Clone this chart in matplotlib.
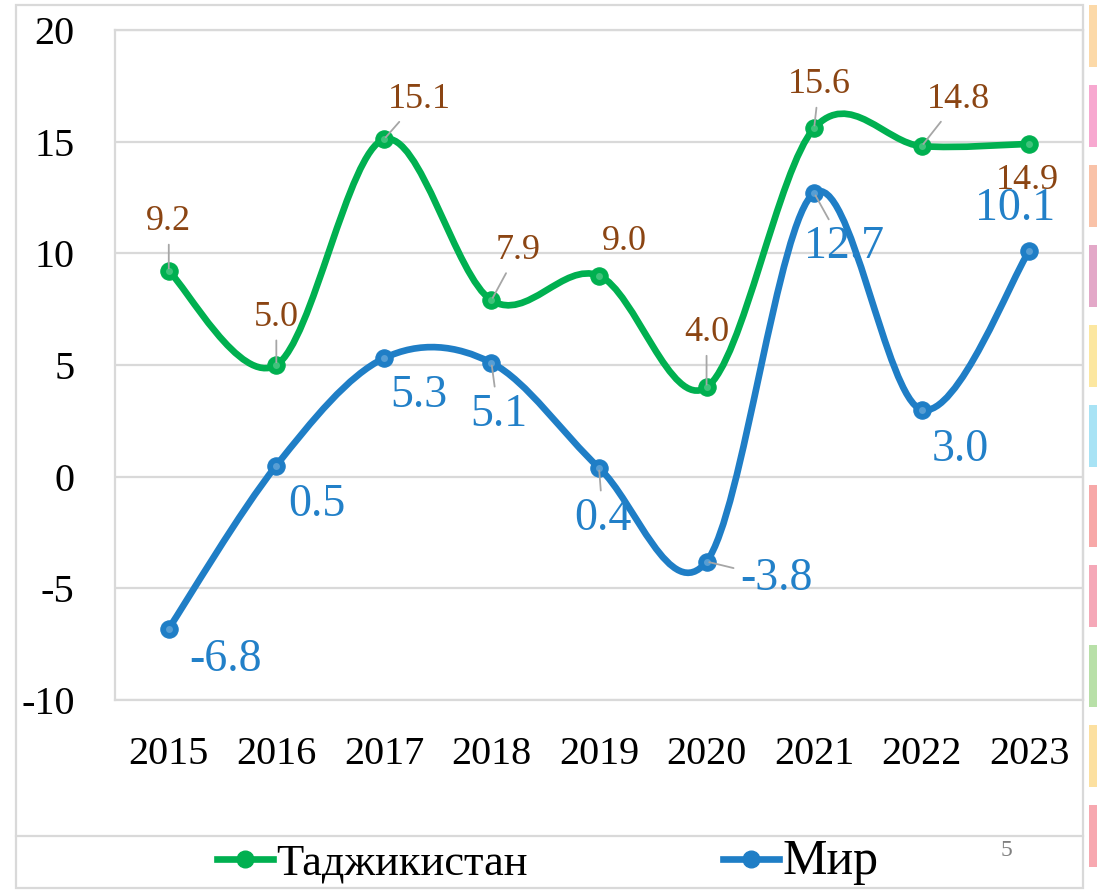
import numpy as np
import matplotlib
matplotlib.use('Agg')
import matplotlib.pyplot as plt
from matplotlib.path import Path
from matplotlib.patches import PathPatch, Rectangle
from matplotlib.lines import Line2D

plt.rcParams['font.family'] = ['Liberation Serif', 'DejaVu Serif']
plt.rcParams['axes.unicode_minus'] = False

# data
years = ['2015', '2016', '2017', '2018', '2019', '2020', '2021', '2022', '2023']
tajikistan = [9.2, 5.0, 15.1, 7.9, 9.0, 4.0, 15.6, 14.8, 14.9]
world = [-6.8, 0.5, 5.3, 5.1, 0.4, -3.8, 12.7, 3.0, 10.1]
series_names = ['Таджикистан', 'Мир']

# label offsets in pixels (dx, dy) and whether a leader line is drawn
taj_offsets = [(0, 50), (0, 48), (35, 40), (27, 50), (25, 34),
               (0, 55), (5, 44), (37, 47), (-2, -37)]
taj_leaders = [True, True, True, True, False, True, True, True, False]
world_offsets = [(57, -31), (41, -39), (35, -37), (7, -52), (4, -51),
                 (70, -17), (30, -54), (39, -40), (-14, 42)]
world_leaders = [False, False, False, True, True, True, True, False, False]

GREEN = '#00B050'
BLUE = '#1F7EC6'
BROWN = '#8B4513'
LABEL_BLUE = '#2280C8'
GRID = '#D9D9D9'


def smooth_path(xs, ys):
    """Excel-like smoothed line: cubic Bezier through the points."""
    pts = np.column_stack([xs, ys]).astype(float)
    n = len(pts)
    verts = [pts[0]]
    codes = [Path.MOVETO]
    for i in range(n - 1):
        p0 = pts[i - 1] if i > 0 else pts[i]
        p1 = pts[i]
        p2 = pts[i + 1]
        p3 = pts[i + 2] if i + 2 < n else pts[i + 1]
        verts += [p1 + (p2 - p0) / 6, p2 - (p3 - p1) / 6, p2]
        codes += [Path.CURVE4] * 3
    return Path(verts, codes)


W, H = 1099, 892
fig = plt.figure(figsize=(W / 100, H / 100), dpi=100)
fig.patch.set_facecolor('white')

ax = fig.add_axes([115 / W, 1 - 700 / H, (1083 - 115) / W, (700 - 30) / H])
x = np.arange(len(years))

for vals, color in [(tajikistan, GREEN), (world, BLUE)]:
    ax.add_patch(PathPatch(smooth_path(x, vals), fill=False, edgecolor=color,
                           lw=4.8, capstyle='round', joinstyle='round', zorder=3))
    ax.plot(x, vals, 'o', ms=12.5, mfc=color, mec=color, mew=0.8, zorder=4)
    # small highlight for the glossy marker look
    ax.plot(x, vals, 'o', ms=5, mfc='white', mec='none', alpha=0.25, zorder=5)

label_sets = [(tajikistan, taj_offsets, taj_leaders, BROWN, 26),
              (world, world_offsets, world_leaders, LABEL_BLUE, 33)]
for vals, offsets, leaders, color, size in label_sets:
    for xi, v, (dx, dy), lead in zip(x, vals, offsets, leaders):
        arrow = None
        if lead:
            arrow = dict(arrowstyle='-', color='#A6A6A6', lw=1.3,
                         shrinkA=3, shrinkB=2)
        ax.annotate(f'{v:.1f}', xy=(xi, v), xytext=(dx, dy),
                    textcoords='offset pixels', ha='center', va='center',
                    color=color, fontsize=size, zorder=6,
                    arrowprops=arrow, annotation_clip=False)

ax.set_xlim(-0.5, len(years) - 0.5)
ax.set_ylim(-10, 20)
ax.set_yticks(np.arange(-10, 21, 5))
ax.set_yticklabels([str(t) for t in range(-10, 21, 5)])
ax.set_xticks(x)
ax.set_xticklabels(years)
ax.tick_params(axis='y', length=0, pad=29, labelsize=29)
ax.tick_params(axis='x', length=0, pad=26, labelsize=29)
ax.grid(axis='y', color=GRID, lw=1.6, zorder=0)
ax.set_axisbelow(True)
for sp in ax.spines.values():
    sp.set_color(GRID)
    sp.set_linewidth(1.6)

# chart frame and legend box
fig.add_artist(Rectangle((16 / W, 1 - 888 / H), (1083 - 16) / W, (888 - 5) / H,
                         transform=fig.transFigure, fill=False,
                         edgecolor=GRID, lw=1.6))
fig.add_artist(Line2D([16 / W, 1083 / W], [1 - 836 / H, 1 - 836 / H],
                      transform=fig.transFigure, color=GRID, lw=1.6))

handles = [Line2D([], [], color=GREEN, lw=4.8, marker='o', ms=12, mfc=GREEN, mec=GREEN),
           Line2D([], [], color=BLUE, lw=4.8, marker='o', ms=12, mfc=BLUE, mec=BLUE)]
leg = fig.legend(handles, series_names, loc='center left',
                 bbox_to_anchor=(217 / W, 1 - 862 / H), ncol=2, frameon=False,
                 fontsize=32, handlelength=1.25, handletextpad=0.08,
                 columnspacing=4.4, borderpad=0, borderaxespad=0)
leg.get_texts()[1].set_fontsize(36)

fig.text(1006 / W, 1 - 851 / H, '5', color='#808080', fontsize=17,
         ha='center', va='center')

# decorative strips on the right edge of the slide
strip_colors = ['#FCD9A8', '#F7A8D0', '#F9C2A8', '#E3A8C8', '#FCE7A0', '#A8E3F5',
                '#F7A8A8', '#F5A8B8', '#B8E0A8', '#FCE0A0', '#F7A8B0']
for i, c in enumerate(strip_colors):
    y0 = 5 + i * 80
    fig.add_artist(Rectangle((1089 / W, 1 - (y0 + 62) / H), 8 / W, 62 / H,
                             transform=fig.transFigure, color=c, lw=0))

fig.savefig('out.png', dpi=100, facecolor='white')
